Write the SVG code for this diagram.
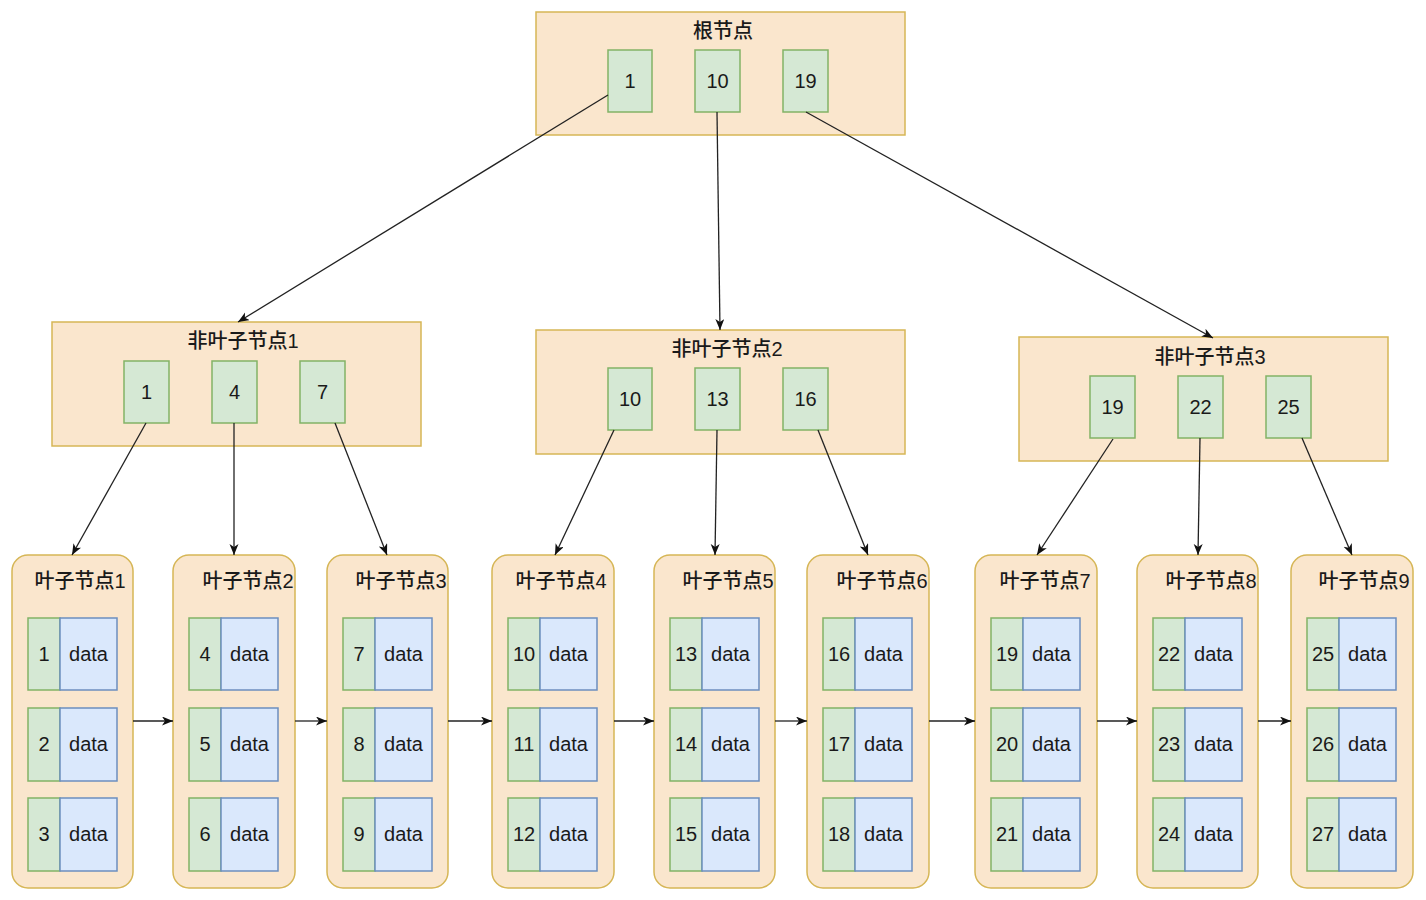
<svg xmlns="http://www.w3.org/2000/svg" width="1426" height="900" viewBox="0 0 1426 900">
<defs>
<style>
.box{fill:#fae6cd;stroke:#d6b656;stroke-width:1.5}
.key{fill:#d5e8d4;stroke:#82b366;stroke-width:1.5}
.dat{fill:#dae8fc;stroke:#6c8ebf;stroke-width:1.5}
.t{font-family:"Liberation Sans","Noto Sans CJK SC",sans-serif;font-size:20px;font-weight:500;fill:#1a1a1a;text-anchor:middle}
.n{font-family:"Liberation Sans",Arial,sans-serif;font-size:20px;fill:#1a1a1a;text-anchor:middle}
.c{stroke:#222;stroke-width:1.3;fill:none;marker-end:url(#ah)}
</style>
<marker id="ah" markerWidth="12" markerHeight="10" refX="11" refY="4.5" orient="auto" markerUnits="userSpaceOnUse">
<path d="M0,0 L11,4.5 L0,9 L3,4.5 z" fill="#111"/>
</marker>
<g id="leafcells">
<rect class="key" x="16" y="63" width="32" height="72"/><rect class="dat" x="48" y="63" width="57" height="72"/>
<rect class="key" x="16" y="153" width="32" height="73"/><rect class="dat" x="48" y="153" width="57" height="73"/>
<rect class="key" x="16" y="243" width="32" height="73"/><rect class="dat" x="48" y="243" width="57" height="73"/>
<text class="n" x="76.5" y="106">data</text>
<text class="n" x="76.5" y="196">data</text>
<text class="n" x="76.5" y="286">data</text>
</g>
</defs>
<rect width="1426" height="900" fill="#ffffff"/>

<g id="root">
<rect class="box" x="536" y="12" width="369" height="123"/>
<text class="t" x="723" y="38">根节点</text>
<rect class="key" x="608" y="50" width="44" height="62"/><text class="n" x="630" y="88">1</text>
<rect class="key" x="695" y="50" width="45" height="62"/><text class="n" x="717.5" y="88">10</text>
<rect class="key" x="783" y="50" width="45" height="62"/><text class="n" x="805.5" y="88">19</text>
</g>

<g id="nonleaf1">
<rect class="box" x="52" y="322" width="369" height="124"/>
<text class="t" x="243" y="348">非叶子节点1</text>
<rect class="key" x="124" y="361" width="45" height="62"/><text class="n" x="146.5" y="399">1</text>
<rect class="key" x="212" y="361" width="45" height="62"/><text class="n" x="234.5" y="399">4</text>
<rect class="key" x="300" y="361" width="45" height="62"/><text class="n" x="322.5" y="399">7</text>
</g>

<g id="nonleaf2">
<rect class="box" x="536" y="330" width="369" height="124"/>
<text class="t" x="727" y="356">非叶子节点2</text>
<rect class="key" x="608" y="368" width="44" height="62"/><text class="n" x="630" y="406">10</text>
<rect class="key" x="695" y="368" width="45" height="62"/><text class="n" x="717.5" y="406">13</text>
<rect class="key" x="783" y="368" width="45" height="62"/><text class="n" x="805.5" y="406">16</text>
</g>

<g id="nonleaf3">
<rect class="box" x="1019" y="337" width="369" height="124"/>
<text class="t" x="1210" y="364">非叶子节点3</text>
<rect class="key" x="1090" y="376" width="45" height="62"/><text class="n" x="1112.5" y="414">19</text>
<rect class="key" x="1178" y="376" width="45" height="62"/><text class="n" x="1200.5" y="414">22</text>
<rect class="key" x="1266" y="376" width="45" height="62"/><text class="n" x="1288.5" y="414">25</text>
</g>

<g id="leaf1" transform="translate(12,555)">
<rect class="box" x="0" y="0" width="121" height="333" rx="16"/>
<text class="t" x="68" y="33">叶子节点1</text>
<use href="#leafcells"/>
<text class="n" x="32" y="106">1</text><text class="n" x="32" y="196">2</text><text class="n" x="32" y="286">3</text>
</g>
<g id="leaf2" transform="translate(173,555)">
<rect class="box" x="0" y="0" width="122" height="333" rx="16"/>
<text class="t" x="75" y="33">叶子节点2</text>
<use href="#leafcells"/>
<text class="n" x="32" y="106">4</text><text class="n" x="32" y="196">5</text><text class="n" x="32" y="286">6</text>
</g>
<g id="leaf3" transform="translate(327,555)">
<rect class="box" x="0" y="0" width="121" height="333" rx="16"/>
<text class="t" x="74" y="33">叶子节点3</text>
<use href="#leafcells"/>
<text class="n" x="32" y="106">7</text><text class="n" x="32" y="196">8</text><text class="n" x="32" y="286">9</text>
</g>
<g id="leaf4" transform="translate(492,555)">
<rect class="box" x="0" y="0" width="122" height="333" rx="16"/>
<text class="t" x="69" y="33">叶子节点4</text>
<use href="#leafcells"/>
<text class="n" x="32" y="106">10</text><text class="n" x="32" y="196">11</text><text class="n" x="32" y="286">12</text>
</g>
<g id="leaf5" transform="translate(654,555)">
<rect class="box" x="0" y="0" width="121" height="333" rx="16"/>
<text class="t" x="74" y="33">叶子节点5</text>
<use href="#leafcells"/>
<text class="n" x="32" y="106">13</text><text class="n" x="32" y="196">14</text><text class="n" x="32" y="286">15</text>
</g>
<g id="leaf6" transform="translate(807,555)">
<rect class="box" x="0" y="0" width="122" height="333" rx="16"/>
<text class="t" x="75" y="33">叶子节点6</text>
<use href="#leafcells"/>
<text class="n" x="32" y="106">16</text><text class="n" x="32" y="196">17</text><text class="n" x="32" y="286">18</text>
</g>
<g id="leaf7" transform="translate(975,555)">
<rect class="box" x="0" y="0" width="122" height="333" rx="16"/>
<text class="t" x="70" y="33">叶子节点7</text>
<use href="#leafcells"/>
<text class="n" x="32" y="106">19</text><text class="n" x="32" y="196">20</text><text class="n" x="32" y="286">21</text>
</g>
<g id="leaf8" transform="translate(1137,555)">
<rect class="box" x="0" y="0" width="121" height="333" rx="16"/>
<text class="t" x="74" y="33">叶子节点8</text>
<use href="#leafcells"/>
<text class="n" x="32" y="106">22</text><text class="n" x="32" y="196">23</text><text class="n" x="32" y="286">24</text>
</g>
<g id="leaf9" transform="translate(1291,555)">
<rect class="box" x="0" y="0" width="122" height="333" rx="16"/>
<text class="t" x="73" y="33">叶子节点9</text>
<use href="#leafcells"/>
<text class="n" x="32" y="106">25</text><text class="n" x="32" y="196">26</text><text class="n" x="32" y="286">27</text>
</g>

<g id="connectors">
<line class="c" x1="608" y1="95" x2="238" y2="322"/>
<line class="c" x1="717" y1="112" x2="720" y2="330"/>
<line class="c" x1="806" y1="112" x2="1213" y2="338"/>
<line class="c" x1="146" y1="423" x2="72" y2="555"/>
<line class="c" x1="234" y1="423" x2="234" y2="555"/>
<line class="c" x1="335" y1="423" x2="387" y2="555"/>
<line class="c" x1="614" y1="430" x2="555" y2="555"/>
<line class="c" x1="717" y1="430" x2="715" y2="555"/>
<line class="c" x1="818" y1="430" x2="868" y2="555"/>
<line class="c" x1="1113" y1="439" x2="1037" y2="555"/>
<line class="c" x1="1200" y1="438" x2="1198" y2="555"/>
<line class="c" x1="1302" y1="438" x2="1352" y2="555"/>
<line class="c" x1="133" y1="721" x2="173" y2="721"/>
<line class="c" x1="295" y1="721" x2="327" y2="721"/>
<line class="c" x1="448" y1="721" x2="492" y2="721"/>
<line class="c" x1="614" y1="721" x2="654" y2="721"/>
<line class="c" x1="775" y1="721" x2="807" y2="721"/>
<line class="c" x1="929" y1="721" x2="975" y2="721"/>
<line class="c" x1="1097" y1="721" x2="1137" y2="721"/>
<line class="c" x1="1258" y1="721" x2="1291" y2="721"/>
</g>
</svg>
